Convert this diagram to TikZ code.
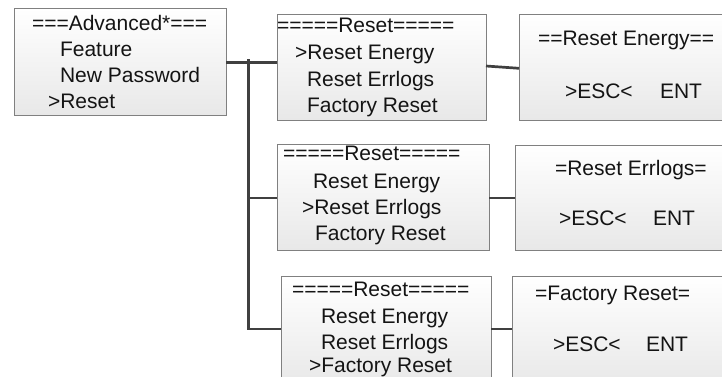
\documentclass[tikz,border=0pt]{standalone}
\usepackage{fontspec}
\setmainfont{Liberation Sans}
\begin{document}
\begin{tikzpicture}[x=1pt,y=-1pt,
  box/.style={draw=black!50, line width=0.9pt, top color=white, bottom color=black!9, shading angle=0, rectangle, anchor=north west, inner sep=0pt, outer sep=0pt},
  txt/.style={anchor=base west, inner sep=0pt, outer sep=0pt, font=\fontsize{21}{25}\selectfont, text=black!92},
  conn/.style={draw=black!75, line width=2.7pt}]
\useasboundingbox (0,0) rectangle (722,376);
\clip (0,0) rectangle (722,376);
% boxes
\node[box, minimum width=212pt, minimum height=107pt] (A) at (14,8) {};
\node[box, minimum width=209pt, minimum height=106pt] (R1) at (277,14) {};
\node[box, minimum width=230pt, minimum height=106pt] (E1) at (519,14) {};
\node[box, minimum width=212pt, minimum height=106pt] (R2) at (277,144) {};
\node[box, minimum width=230pt, minimum height=105pt] (E2) at (515,145) {};
\node[box, minimum width=210pt, minimum height=110pt] (R3) at (281,276) {};
\node[box, minimum width=230pt, minimum height=110pt] (E3) at (512,276) {};
% texts
\node[txt] (a1) at (32,30) {===Advanced*===};
\node[txt] (a2) at (60,56) {Feature};
\node[txt] (a3) at (60,82) {New Password};
\node[txt] (a4) at (48,108) {>Reset};
\node[txt] (r11) at (277,32) {=====Reset=====};
\node[txt] (r12) at (295,59) {>Reset Energy};
\node[txt] (r13) at (307,86) {Reset Errlogs};
\node[txt] (r14) at (307,112) {Factory Reset};
\node[txt] (e11) at (538,45) {==Reset Energy==};
\node[txt] (e12) at (565,98) {>ESC<};
\node[txt] (e13) at (660,98) {ENT};
\node[txt] (r21) at (283,160) {=====Reset=====};
\node[txt] (r22) at (313,188) {Reset Energy};
\node[txt] (r23) at (302,214) {>Reset Errlogs};
\node[txt] (r24) at (315,240) {Factory Reset};
\node[txt] (e21) at (555,175) {=Reset Errlogs=};
\node[txt] (e22) at (559,225) {>ESC<};
\node[txt] (e23) at (653,225) {ENT};
\node[txt] (r31) at (292,296) {=====Reset=====};
\node[txt] (r32) at (321,323) {Reset Energy};
\node[txt] (r33) at (321,349) {Reset Errlogs};
\node[txt] (r34) at (309,372) {>Factory Reset};
\node[txt] (e31) at (535,300) {=Factory Reset=};
\node[txt] (e32) at (553,351) {>ESC<};
\node[txt] (e33) at (646,351) {ENT};
% connectors
\coordinate (t0) at (248.5,59);
\coordinate (t1) at (248.5,62.5);
\coordinate (t2) at (248.5,198);
\coordinate (t3) at (248.5,329);
\draw[conn] (A.east |- t1) -- (R1.west |- t1);
\draw[conn] (t0) -- (t3);
\draw[conn] (t2) -- (R2.west |- t2);
\draw[conn] ([xshift=-1.35pt]t3) -- (R3.west |- t3);
\draw[conn] ([yshift=1pt]R1.east) -- ([yshift=-1.3pt]E1.west);
\draw[conn] (R2.east |- t2) -- (E2.west |- t2);
\draw[conn] (R3.east |- t3) -- (E3.west |- t3);
\end{tikzpicture}
\end{document}
